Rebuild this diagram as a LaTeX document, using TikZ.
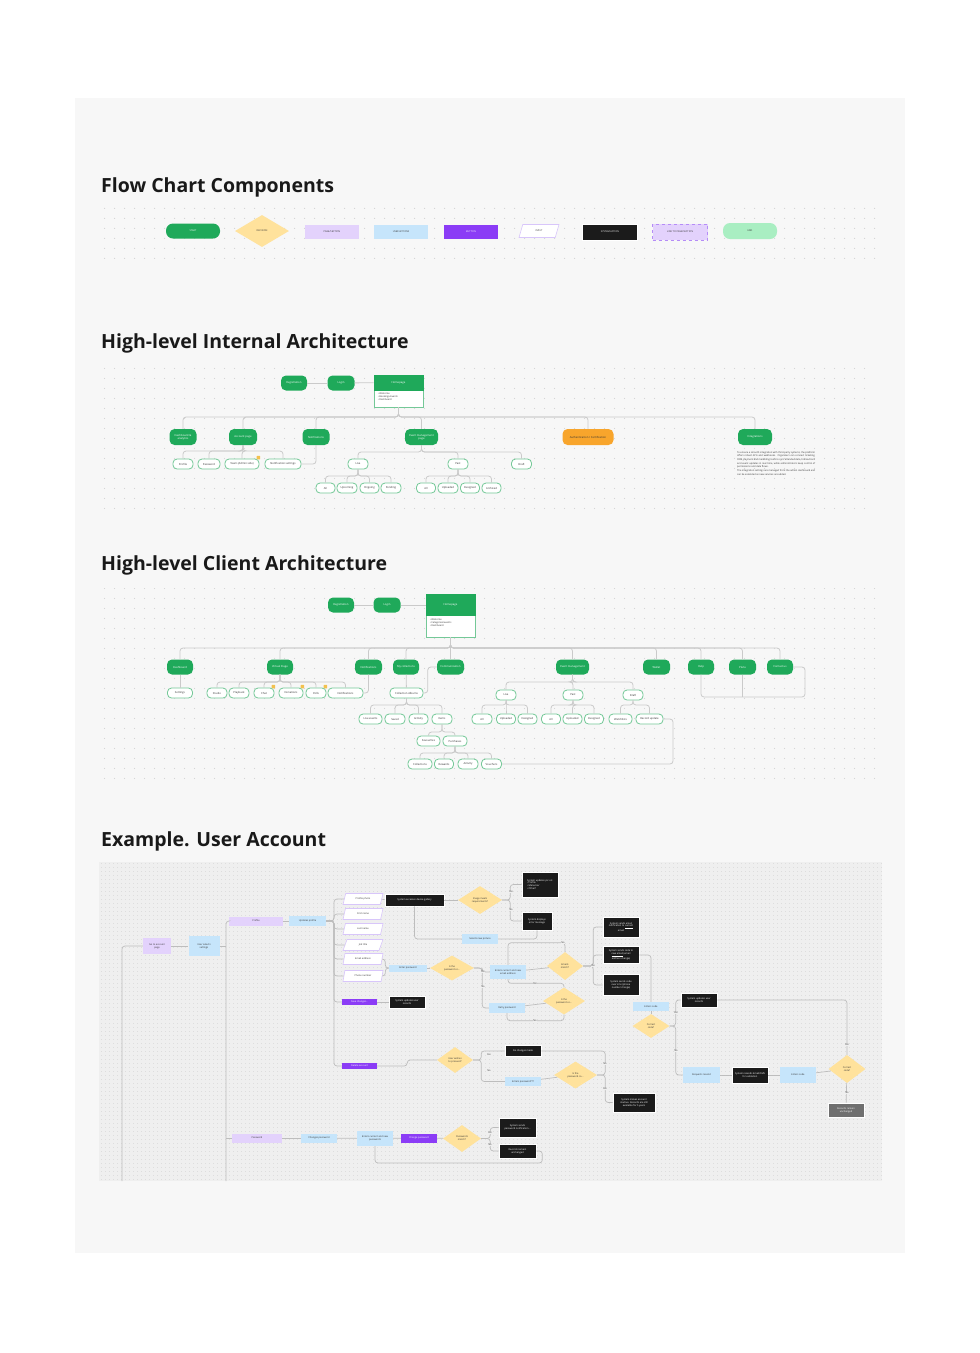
\documentclass[tikz,border=0pt]{standalone}
\usepackage{fontspec}
\setmainfont{Open Sans}
\usetikzlibrary{shapes.geometric,patterns.meta,calc}
\definecolor{panelbg}{HTML}{F7F7F7}
\definecolor{dotc}{HTML}{D2D2D2}
\definecolor{exbg}{HTML}{EFEFEF}
\definecolor{exdot}{HTML}{D0D0D0}
\definecolor{cgreen}{HTML}{1FA95A}
\definecolor{cborder}{HTML}{74C897}
\definecolor{cgray}{HTML}{CACACA}
\definecolor{cegray}{HTML}{BDBDBD}
\definecolor{corange}{HTML}{F8A52C}
\definecolor{clpurple}{HTML}{E3D2FC}
\definecolor{clblue}{HTML}{C6E5FB}
\definecolor{cpurple}{HTML}{8B3CF6}
\definecolor{cblack}{HTML}{1B1B1B}
\definecolor{clgreen}{HTML}{A9EEC2}
\definecolor{cyellow}{HTML}{FFE29C}
\definecolor{cgraybox}{HTML}{6F6F6F}
\definecolor{ctext}{HTML}{333333}
\definecolor{cinb}{HTML}{D8C6FA}
\definecolor{cnote}{HTML}{F2C14E}
\definecolor{cdash}{HTML}{B58CF7}
\newcommand\ftitle{\fontsize{19.5}{22}\selectfont\bfseries}
\newcommand\fsmall{\fontsize{2.7}{3.2}\selectfont}
\newcommand\fex{\fontsize{2.4}{2.9}\selectfont}
\newcommand\fpara{\fontsize{2.4}{3.7}\selectfont}
\newcommand\mytree[3]{\foreach \kid in {#3}{\draw[conn] (#1.south) -- (#1.south |- #2) -| (\kid.north);}}
\tikzdeclarepattern{
  name=dotgrid, type=uncolored,
  bounding box={(0pt,0pt) and (10pt,10pt)},
  tile size={(10pt,10pt)},
  code={\pgfpathcircle{\pgfqpoint{5pt}{5pt}}{0.65pt}\pgfusepath{fill}}
}
\tikzdeclarepattern{
  name=dotfine, type=uncolored,
  bounding box={(0pt,0pt) and (4pt,4pt)},
  tile size={(4pt,4pt)},
  code={\pgfpathcircle{\pgfqpoint{2pt}{2pt}}{0.45pt}\pgfusepath{fill}}
}
\tikzset{
  conn/.style={draw=cgray, line width=0.8pt, rounded corners=3pt},
  econn/.style={draw=cegray, line width=0.7pt, rounded corners=3pt},
  sz/.style 2 args={minimum width=#1, minimum height=#2},
  gnode/.style={fill=cgreen, text=white, rounded corners=5pt, inner sep=0pt, font=\fsmall, align=center},
  snode/.style={draw=cborder, fill=white, line width=0.8pt, rounded corners=4pt, inner sep=0pt, font=\fsmall, text=ctext, align=center, minimum height=10},
  pagebox/.style={fill=clpurple, inner sep=0pt, font=\fex, text=ctext, align=center},
  userbox/.style={fill=clblue, inner sep=0pt, font=\fex, text=ctext, align=center},
  btnbox/.style={fill=cpurple, inner sep=0pt, font=\fex, text=white, align=center},
  sysbox/.style={fill=cblack, draw=white, line width=0.6pt, inner sep=0pt, font=\fex, text=white, align=center},
  graybox/.style={fill=cgraybox, draw=white, line width=0.6pt, inner sep=0pt, font=\fex, text=white, align=center},
  decision/.style={diamond, fill=cyellow, inner sep=0pt, font=\fex, text=ctext, align=center},
  inputbox/.style={trapezium, trapezium left angle=65, trapezium right angle=115, trapezium stretches=true, draw=cinb, line width=0.6pt, fill=white, inner sep=0pt, font=\fex, text=ctext},
  lbl/.style={font=\fex, text=ctext, fill=exbg, inner sep=0.4pt},
  notebox/.style={fill=cnote, minimum size=3.5, inner sep=0pt, rounded corners=0.5pt},
  titlenode/.style={anchor=base west, font=\ftitle, text=black!90, inner sep=0pt}
}
\begin{document}
\begin{tikzpicture}[x=1pt,y=-1pt]
\useasboundingbox (0,0) rectangle (980,1353);
\fill[white] (0,0) rectangle (980,1353);
\fill[panelbg] (75,98) rectangle (905,1253);
\fill[pattern=dotgrid, pattern color=dotc] (100,205) rectangle (880,258);
\fill[pattern=dotgrid, pattern color=dotc] (100,365) rectangle (870,515);
\fill[pattern=dotgrid, pattern color=dotc] (100,588) rectangle (880,782);
\fill[exbg] (99,862) rectangle (882,1181);
\fill[pattern=dotfine, pattern color=exdot] (99,862) rectangle (882,1181);

% titles
\node[titlenode] (t1) at (101,192) {Flow Chart Components};
\node[titlenode] (t2) at (101,348.5) {High-level Internal Architecture};
\node[titlenode] (t3) at (101,570.5) {High-level Client Architecture};
\node[titlenode] (t4) at (101,846.5) {Example. User Account};

% components
\node[gnode, sz={54}{15}, rounded corners=7pt, font=\fex] (kstart) at (193,231) {START};
\node[decision, sz={54}{32}] (kdec) at (262,231) {DECISION};
\node[pagebox, sz={54}{14}] (kpage) at (332,232) {PAGE/SECTION};
\node[userbox, sz={54}{14}] (kuser) at (401,232) {USER ACTIONS};
\node[btnbox, sz={54}{14}] (kbtn) at (471,232) {BUTTON};
\node[inputbox, sz={40}{13}] (kinput) at (539,231) {INPUT};
\node[sysbox, sz={55}{16}] (ksys) at (610,232) {SYSTEM ACTION};
\node[pagebox, draw=cdash, dashed, line width=0.5pt, sz={55}{16}] (klink) at (680,232) {LINK TO PAGE/SECTION};
\node[fill=clgreen, rounded corners=7pt, inner sep=0pt, font=\fex, text=ctext, sz={54}{16}] (kend) at (750,231) {END};

% internal architecture
\node[gnode, sz={26}{15}] (ireg) at (294,383) {Registration};
\node[gnode, sz={27}{15}] (ilog) at (341,383) {Login};
\node[draw=cborder, fill=white, line width=0.8pt, sz={49}{32}, inner sep=0pt] (ihome) at (398.5,391) {};
\node[fill=cgreen, draw=cgreen, line width=0.8pt, text=white, font=\fsmall, sz={49}{15}, inner sep=0pt, anchor=north] (iheader) at (ihome.north) {Homepage};
\node[anchor=north west, font=\fex, align=left, text=ctext, inner sep=0pt, xshift=4pt, yshift=-18pt] (ilist) at (ihome.north west) {• Welcome\\• Bookings/events\\• Dashboard};
\draw[conn] (ireg) -- (ilog);
\draw[conn] (ilog) -- (iheader);
\coordinate (ibus) at (0,417);
\node[gnode, sz={27}{16}] (idash) at (183,437) {Dashboard \&\\analytics};
\node[gnode, sz={28}{16}] (iacc) at (243,437) {Account page};
\node[gnode, sz={27}{16}] (inot) at (316,437) {Notifications};
\node[gnode, sz={33}{16}] (ievt) at (421.5,437) {Event management\\page};
\node[gnode, sz={51}{16}, fill=corange, text=ctext] (iauth) at (588,437) {Authentication / Certification};
\node[gnode, sz={34}{16}] (iint) at (755,437) {Integrations};
\mytree{ihome}{ibus}{idash,iacc,inot,ievt,iauth,iint}
\node[snode, sz={20}{10}] (ip1) at (183,464) {Profile};
\node[snode, sz={22}{10}] (ip2) at (209,464) {Password};
\node[snode, sz={34}{10}] (ip3) at (242,464) {Team (Admin side)};
\node[snode, sz={36}{10}] (ip4) at (283,464) {Notification settings};
\node[notebox] (in1) at ([xshift=-1pt,yshift=1pt]ip3.north east) {};
\coordinate (iaccbus) at (0,451);
\mytree{iacc}{iaccbus}{ip1,ip2,ip3,ip4}
\draw[conn] (inot.south) |- (ip4.east);
\node[snode, sz={20}{10}] (ilive) at (358,464) {Live};
\node[snode, sz={20}{10}] (ipast) at (458,464) {Past};
\node[snode, sz={20}{10}] (idraft) at (521.5,464) {Draft};
\coordinate (ievtbus) at (0,452);
\mytree{ievt}{ievtbus}{ilive,ipast,idraft}
\node[snode, sz={19}{10}] (il1) at (325.5,488) {All};
\node[snode, sz={20}{10}] (il2) at (347,488) {Upcoming};
\node[snode, sz={19}{10}] (il3) at (369.5,488) {Ongoing};
\node[snode, sz={20}{10}] (il4) at (391,488) {Pending};
\node[snode, sz={19}{10}] (iq1) at (426,488) {All};
\node[snode, sz={20}{10}] (iq2) at (448,488) {Uploaded};
\node[snode, sz={19}{10}] (iq3) at (470,488) {Designed};
\node[snode, sz={19}{10}] (iq4) at (491.5,488) {Archived};
\coordinate (ilvbus) at (0,476);
\mytree{ilive}{ilvbus}{il1,il2,il3,il4}
\mytree{ipast}{ilvbus}{iq1,iq2,iq3,iq4}
\node[anchor=north west, font=\fpara, text=ctext, text width=78pt, align=justify, inner sep=0pt] (ipara) at (737,451) {To ensure a smooth integration with third-party systems, the platform offers robust APIs and webhooks. Organizers can connect ticketing, CRM, payment and marketing tools to sync attendee data, transactions and event updates in real time, while administrators keep control of permissions and data flows.\\ The integration settings are managed from the admin dashboard and can be extended as new services are added.};

% client architecture
\node[gnode, sz={26}{15}] (creg) at (341,605) {Registration};
\node[gnode, sz={27}{15}] (clog) at (387,605) {Login};
\node[draw=cborder, fill=white, line width=0.8pt, sz={49}{43}, inner sep=0pt] (chome) at (450.5,615.5) {};
\node[fill=cgreen, draw=cgreen, line width=0.8pt, text=white, font=\fsmall, sz={49}{21}, inner sep=0pt, anchor=north] (cheader) at (chome.north) {Homepage};
\node[anchor=north west, font=\fex, align=left, text=ctext, inner sep=0pt, xshift=4pt, yshift=-25pt] (clist) at (chome.north west) {• Welcome\\• Categories/events\\• Dashboard};
\draw[conn] (creg) -- (clog);
\draw[conn] (clog) -- (clog -| cheader.west);
\coordinate (cbus) at (0,648);
\node[gnode, sz={26}{15}] (cdash) at (180,667) {Dashboard};
\node[gnode, sz={26}{15}] (cstage) at (280,667) {Virtual Stage};
\node[gnode, sz={27}{15}] (cnot) at (368.5,667) {Notifications};
\node[gnode, sz={26}{15}] (ccoll) at (406,667) {My collections};
\node[gnode, sz={27}{15}] (ccomm) at (450.5,667) {Communication};
\node[gnode, sz={33}{15}] (cevt) at (572.5,667) {Event management};
\node[gnode, sz={27}{15}] (cwal) at (656.5,667) {Wallet};
\node[gnode, sz={26}{15}] (chelp) at (701,667) {Help};
\node[gnode, sz={27}{15}] (cplan) at (742.5,667) {Plans};
\node[gnode, sz={26}{15}] (ccont) at (780,667) {Contact us};
\mytree{chome}{cbus}{cdash,cstage,cnot,ccoll,ccomm,cevt,cwal,chelp,cplan,ccont}
\coordinate (chl) at (805,697);
\draw[conn] (chelp.south) |- (chl) |- (ccont.east);
\draw[conn] (cplan.south) -- (cplan.south |- chl);
\node[snode, sz={25}{10}] (cset) at (180,693) {Settings};
\draw[conn] (cdash) -- (cset);
\node[snode, sz={20}{10}] (cs1) at (217,693) {Studio};
\node[snode, sz={20}{10}] (cs2) at (239,693) {Playback};
\node[snode, sz={20}{10}] (cs3) at (264,693) {Chat};
\node[snode, sz={24}{10}] (cs4) at (291,693) {Donations};
\node[snode, sz={20}{10}] (cs5) at (316,693) {Polls};
\node[snode, sz={35}{10}] (cs6) at (345.5,693) {Notifications};
\node[notebox] (cn1) at ([xshift=-1pt,yshift=1pt]cs3.north east) {};
\node[notebox] (cn2) at ([xshift=-1pt,yshift=1pt]cs4.north east) {};
\node[notebox] (cn3) at ([xshift=-1pt,yshift=1pt]cs5.north east) {};
\coordinate (cstbus) at (0,682);
\mytree{cstage}{cstbus}{cs1,cs2,cs3,cs4,cs5,cs6}
\draw[conn] (cnot.south) |- (cs6.east);
\node[snode, sz={33}{10}] (calb) at (406.5,693) {Collection Albums};
\draw[conn] (ccoll) -- (calb);
\draw[conn] (ccomm.west) -- ++(-9,0) |- (calb.east);
\node[snode, sz={23}{10}] (ca1) at (370.5,719) {Live events};
\node[snode, sz={20}{10}] (ca2) at (395,719) {Saved};
\node[snode, sz={19}{10}] (ca3) at (418.5,719) {Activity};
\node[snode, sz={20}{10}] (ca4) at (442,719) {Items};
\coordinate (calbus) at (0,705);
\mytree{calb}{calbus}{ca1,ca2,ca3,ca4}
\node[snode, sz={23}{10}] (cb1) at (428.5,741) {Favourites};
\node[snode, sz={24}{10}] (cb2) at (455,741) {Purchases};
\coordinate (cbbus) at (0,732);
\mytree{ca4}{cbbus}{cb1,cb2}
\node[snode, sz={24}{10}] (cc1) at (420,764) {Collections};
\node[snode, sz={19}{10}] (cc2) at (444,764) {Rewards};
\node[snode, sz={20}{10}] (cc3) at (468,764) {Activity};
\node[snode, sz={20}{10}] (cc4) at (491.5,764) {Vouchers};
\coordinate (ccbus) at (0,753);
\mytree{cb2}{ccbus}{cc1,cc2,cc3,cc4}
\node[snode, sz={20}{10}] (ce1) at (506,695) {Live};
\node[snode, sz={20}{10}] (ce2) at (573,695) {Past};
\node[snode, sz={20}{10}] (ce3) at (633,695) {Draft};
\coordinate (cebus) at (0,682);
\mytree{cevt}{cebus}{ce1,ce2,ce3}
\node[snode, sz={20}{10}] (cf1) at (482,719) {All};
\node[snode, sz={19}{10}] (cf2) at (506,719) {Uploaded};
\node[snode, sz={19}{10}] (cf3) at (527.5,719) {Designed};
\node[snode, sz={19}{10}] (cg1) at (551,719) {All};
\node[snode, sz={19}{10}] (cg2) at (572.5,719) {Uploaded};
\node[snode, sz={19}{10}] (cg3) at (594,719) {Designed};
\node[snode, sz={23}{10}] (ch1) at (620.5,719) {Watchlists};
\node[snode, sz={27}{10}] (ch2) at (649.5,719) {Record update};
\coordinate (cfbus) at (0,705);
\mytree{ce1}{cfbus}{cf1,cf2,cf3}
\mytree{ce2}{cfbus}{cg1,cg2,cg3}
\mytree{ce3}{cfbus}{ch1,ch2}
\coordinate (cloop) at (673,764);
\draw[conn] (cc4.east) -- (cloop) |- (ch2.east);

% example: user account
\node[pagebox, sz={28}{16}] (goacc) at (157,946) {Go to account\\page};
\node[userbox, sz={31}{20}] (usel) at (204,946) {User selects\\settings};
\coordinate (lv) at (122,1181);
\coordinate (bv) at (226,1181);
\node[pagebox, sz={54}{9}] (prof) at (256,921) {Profile};
\node[userbox, sz={37}{10}] (updp) at (307.5,921) {Updates profile};
\draw[econn] (goacc.west) -| (lv);
\draw[econn] (goacc) -- (usel);
\draw[econn] (usel.east) -- (usel.east -| bv);
\draw[econn] (prof.west) -| (bv);
\draw[econn] (prof) -- (updp);
\node[inputbox, sz={40}{11}] (iphoto) at (363,899) {Profile photo};
\node[inputbox, sz={40}{11}] (ifname) at (363,914) {First name};
\node[inputbox, sz={40}{11}] (ilname) at (363,929) {Last name};
\node[inputbox, sz={40}{11}] (ijob) at (363,945) {Job title};
\node[inputbox, sz={40}{11}] (iemail) at (363,959) {Email address};
\node[inputbox, sz={40}{11}] (iphone) at (363,976) {Phone number};
\node[btnbox, sz={35}{6}] (savebtn) at (359.5,1002) {Save changes...};
\node[btnbox, sz={35}{6}] (delbtn) at (359.5,1066) {Delete account};
\coordinate (bx) at (334,0);
\foreach \kid in {iphoto,ifname,ilname,ijob,iemail,iphone,savebtn,delbtn}{
  \draw[econn] (updp.east) -| (bx |- \kid.west) -- (\kid.west);
}
\node[sysbox, sz={59}{12}] (gallery) at (414.5,900) {System accesses device gallery};
\node[decision, sz={44}{28}] (imgq) at (480,900) {Image meets\\requirements?};
\node[sysbox, sz={36}{25}, align=left] (upd) at (540,884.5) {System updates pic on:\\• Profile\\• Menu bar\\• Other?};
\node[sysbox, sz={30}{18}] (err) at (537,921) {System displays\\error message};
\node[userbox, sz={36}{10}] (newpic) at (480,939) {Selects new picture};
\node[sysbox, sz={36}{12}] (savesys) at (407,1002) {System updates user\\records};
\draw[econn] (iphoto) -- (gallery);
\draw[econn] (gallery) -- (imgq);
\draw[econn] (imgq.east) -- ++(8,0) |- (upd.west);
\draw[econn] (imgq.east) -- ++(8,0) |- (err.west);
\node[lbl] (lb1) at (511,892) {Yes};
\node[lbl] (lb2) at (511,910) {No};
\draw[econn] (gallery.south) |- (newpic.west);
\draw[econn] (err.south) |- (newpic.east);
\draw[econn] (savebtn) -- (savesys);
\node[userbox, sz={38}{7}] (enterpw) at (408,968) {Enter password};
\node[decision, sz={44}{25}] (pwq1) at (452,968) {Is the\\password co...};
\node[userbox, sz={36}{14}] (curnew) at (508,972) {Enters current and new\\email address};
\node[userbox, sz={36}{10}] (retry) at (507,1008) {Retry password};
\node[decision, sz={36}{28}] (emq) at (565,966) {Emails\\match?};
\node[sysbox, sz={36}{20}] (s1) at (621,927) {System sends email\\notification to \underline{current}\\email};
\node[sysbox, sz={36}{17}] (s2) at (621,955) {System sends code to\\\underline{new email} (email\\address change)};
\node[sysbox, sz={36}{21}] (s3) at (621,985) {System sends code\\over sms (phone\\number change)};
\node[decision, sz={42}{27}] (pwq2) at (564,1001) {Is the\\password co...};
\draw[econn] (iemail.east) -- ++(3,0) |- (enterpw.west);
\draw[econn] (iphone.east) -- ++(3,0) |- (enterpw.west);
\draw[econn] (enterpw) -- (pwq1);
\draw[econn] (pwq1.east) -- ++(8,0) |- (curnew.west);
\draw[econn] (pwq1.east) -- ++(8,0) |- (retry.west);
\node[lbl] (lb3) at (483,972) {Yes};
\node[lbl] (lb4) at (483,987) {No};
\draw[econn] (curnew) -- (emq);
\draw[econn] (emq.east) -- ++(10,0) |- (s1.west);
\draw[econn] (emq.east) -- ++(10,0) |- (s2.west);
\draw[econn] (emq.east) -- ++(10,0) |- (s3.west);
\node[lbl] (lb5) at (593,966) {Yes};
\draw[econn] (emq.north) -- ++(0,-9) -| (curnew.north);
\node[lbl] (lb6) at (563,943) {No};
\draw[econn] (retry) -- (pwq2);
\draw[econn] (pwq2.north) -- ++(0,-4) -| (curnew.south);
\node[lbl] (lb7) at (535,984) {Yes};
\draw[econn] (pwq2.south) -- ++(0,6) -| (retry.south);
\node[lbl] (lb8) at (535,1021) {No};
\node[userbox, sz={36}{9}] (ecode) at (651,1006.5) {Enters code};
\node[decision, sz={37}{24}] (codeq) at (651,1026) {Correct\\code?};
\node[sysbox, sz={36}{14}] (urec) at (699,1000) {System updates user\\records};
\node[userbox, sz={37}{16}] (reqr) at (701.5,1075) {Requests resend};
\node[sysbox, sz={36}{16}] (resend) at (750,1075) {System resends Email/SMS\\for validation};
\node[userbox, sz={36}{16}] (ecode2) at (798,1075) {Enters code};
\node[decision, sz={37}{28}] (codeq2) at (847,1069) {Correct\\code?};
\node[graybox, sz={36}{14}] (unch) at (846,1110) {Records remain\\unchanged};
\draw[econn] (s2.east) -| (ecode.north);
\draw[econn] (ecode) -- (codeq);
\draw[econn] (codeq.east) -- ++(6,0) |- (urec.west);
\draw[econn] (codeq.east) -- ++(6,0) |- (reqr.west);
\node[lbl] (lb9) at (676,1013) {Yes};
\node[lbl] (lb10) at (676,1051) {No};
\draw[econn] (reqr) -- (resend);
\draw[econn] (resend) -- (ecode2);
\draw[econn] (ecode2) -- (codeq2);
\draw[econn] (codeq2.north) |- (urec.east);
\node[lbl] (lb11) at (847,1045) {Yes};
\draw[econn] (codeq2) -- (unch);
\node[lbl] (lb12) at (847,1093) {No};
\node[decision, sz={36}{26}] (wishq) at (455,1060) {User wishes\\to proceed?};
\node[sysbox, sz={36}{11}] (nochg) at (523,1051) {No changes made};
\node[userbox, sz={36}{9}] (entpw) at (523,1081.5) {Enters password???};
\node[decision, sz={43}{27}] (pwq3) at (575.5,1075) {Is the\\password co...};
\node[sysbox, sz={42}{19}] (inact) at (634,1102.5) {System makes account\\inactive. Records are still\\available for 5 years};
\draw[econn] (delbtn.east) -- ++(30,0) |- (wishq.west);
\draw[econn] (wishq.east) -- ++(8,0) |- (nochg.west);
\draw[econn] (wishq.east) -- ++(8,0) |- (entpw.west);
\node[lbl] (lb13) at (489,1055) {Yes};
\node[lbl] (lb14) at (489,1071) {No};
\draw[econn] (entpw) -- (pwq3);
\draw[econn] (pwq3.east) -- ++(8,0) |- (nochg.east);
\draw[econn] (pwq3.east) -- ++(8,0) |- (inact.west);
\node[lbl] (lb15) at (605,1064) {No};
\node[lbl] (lb16) at (605,1089) {Yes};
\node[pagebox, sz={50}{9}] (pwpage) at (257,1138) {Password};
\node[userbox, sz={36}{9}] (chpw) at (319,1138) {Changes password};
\node[userbox, sz={36}{15}] (entcn) at (375,1138.5) {Enters current and new\\passwords};
\node[btnbox, sz={36}{9}] (chbtn) at (419,1138) {Change password};
\node[decision, sz={38}{27}] (pwmq) at (462,1138.5) {Passwords\\match?};
\node[sysbox, sz={37}{19}] (pwnot) at (517.5,1127.5) {System sends\\password notification...};
\node[sysbox, sz={37}{14}] (unch2) at (517.5,1151) {Records remain\\unchanged};
\draw[econn] (pwpage.west) -- (pwpage.west -| bv);
\draw[econn] (pwpage) -- (chpw);
\draw[econn] (chpw) -- (entcn);
\draw[econn] (entcn) -- (chbtn);
\draw[econn] (chbtn) -- (pwmq);
\draw[econn] (pwmq.east) -- ++(9,0) |- (pwnot.west);
\draw[econn] (pwmq.east) -- ++(9,0) |- (unch2.west);
\node[lbl] (lb17) at (490,1133) {Yes};
\node[lbl] (lb18) at (490,1145) {No};
\draw[econn] (unch2.east) -| ++(6,12) -| (entcn.south);
\end{tikzpicture}
\end{document}
